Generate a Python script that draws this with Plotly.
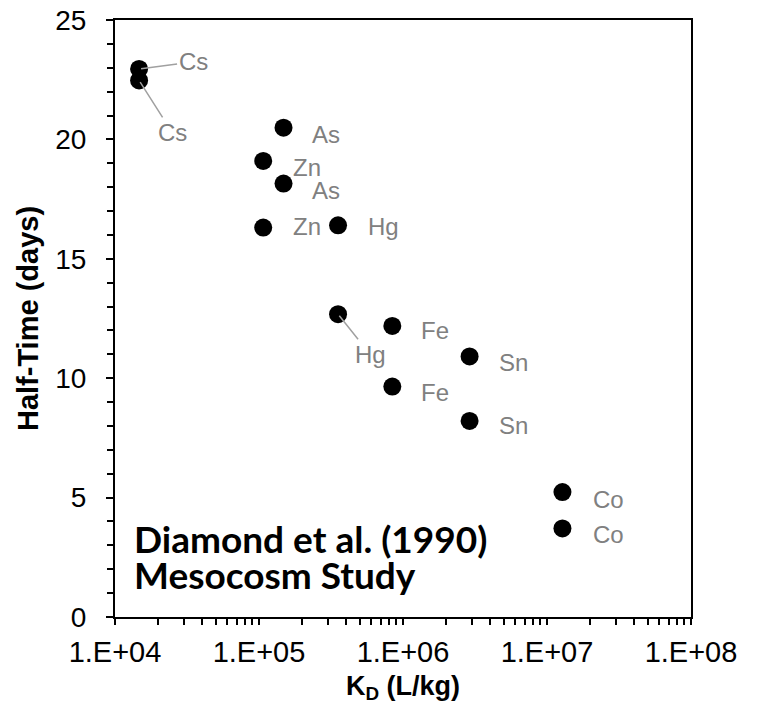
import math
import plotly.graph_objects as go

# ---- data ----
elements = ["Cs", "Cs", "As", "Zn", "As", "Zn", "Hg", "Hg", "Fe", "Sn", "Fe", "Sn", "Co", "Co"]
kd_values = [1.47e4, 1.47e4, 1.48e5, 1.07e5, 1.48e5, 1.07e5, 3.54e5, 3.54e5,
             8.43e5, 2.90e6, 8.43e5, 2.90e6, 1.28e7, 1.28e7]
half_time = [22.95, 22.47, 20.49, 19.10, 18.15, 16.31, 16.40, 12.68,
             12.19, 10.91, 9.65, 8.21, 5.23, 3.71]

x_major = [1e4, 1e5, 1e6, 1e7, 1e8]
x_major_labels = ["1.E+04", "1.E+05", "1.E+06", "1.E+07", "1.E+08"]
y_ticks = [0, 5, 10, 15, 20, 25]

# ---- label placement (pixel offsets from the point) ----
# (dx, dy, leader)  dy positive = downward on screen
label_offsets = [
    (54, -7, True), (33, 52, True), (42, 7, False), (44, 7, False), (42, 7, False),
    (44, -1, False), (45, 1, False), (32, 40, True), (43, 5, False), (44, 6, False),
    (43, 6, False), (44, 5, False), (46, 7, False), (46, 6, False),
]

GRAY = "#808080"
LABEL_FONT = dict(family="Liberation Sans, Arial", size=24, color=GRAY)

fig = go.Figure()
fig.add_trace(go.Scatter(
    x=kd_values, y=half_time, mode="markers",
    marker=dict(size=18, color="black"),
    hoverinfo="x+y", showlegend=False,
))

annotations = []
for el, xv, yv, (dx, dy, leader) in zip(elements, kd_values, half_time, label_offsets):
    lx = math.log10(xv)  # annotations on a log axis use log10 coordinates
    if leader:
        annotations.append(dict(
            x=lx, y=yv, xref="x", yref="y", text=el,
            showarrow=True, arrowhead=0, arrowwidth=1.5, arrowcolor="#a0a0a0",
            ax=dx, ay=dy, standoff=2, font=LABEL_FONT,
        ))
    else:
        annotations.append(dict(
            x=lx, y=yv, xref="x", yref="y", text=el, showarrow=False,
            xshift=dx, yshift=-dy, font=LABEL_FONT,
        ))

STUDY_FONT = dict(family="Lato", size=37, color="black", weight="bold")
annotations.append(dict(
    x=0.03, y=0.131, xref="paper", yref="paper", xanchor="left", yanchor="middle",
    text="Diamond et al. (1990)", showarrow=False, font=STUDY_FONT,
))
annotations.append(dict(
    x=0.03, y=0.071, xref="paper", yref="paper", xanchor="left", yanchor="middle",
    text="Mesocosm Study", showarrow=False, font=STUDY_FONT,
))

# x ticks: majors labelled, minors (2..9) unlabelled
x_tickvals, x_ticktext = [], []
for i, v in enumerate(x_major):
    x_tickvals.append(v)
    x_ticktext.append(x_major_labels[i])
    if i < len(x_major) - 1:
        for k in range(2, 10):
            x_tickvals.append(v * k)
            x_ticktext.append("")

fig.update_layout(
    width=759, height=712,
    margin=dict(l=115, r=68, t=20, b=95),
    paper_bgcolor="white", plot_bgcolor="white",
    annotations=annotations,
    font=dict(family="Liberation Sans, Arial", color="black"),
    xaxis=dict(
        type="log", range=[4, 8], automargin=False,
        tickvals=x_tickvals, ticktext=x_ticktext,
        ticks="outside", ticklen=6, tickwidth=1.5, tickcolor="black",
        ticklabelstandoff=2, ticklabeloverflow="allow",
        showline=True, linecolor="black", linewidth=2, mirror=True,
        showgrid=False, zeroline=False,
        tickfont=dict(size=29),
        title=dict(text="K<sub>D</sub> (L/kg)", font=dict(size=27, weight="bold"), standoff=9),
    ),
    yaxis=dict(
        range=[0, 25], tickvals=y_ticks, automargin=False,
        ticks="outside", ticklen=7, tickwidth=1.5, tickcolor="black",
        ticklabelstandoff=14, ticklabeloverflow="allow",
        minor=dict(dtick=1, ticks="outside", ticklen=6, tickwidth=1.5, tickcolor="black"),
        showline=True, linecolor="black", linewidth=2, mirror=True,
        showgrid=False, zeroline=False,
        tickfont=dict(size=28),
        title=dict(text="Half-Time (days)", font=dict(size=29, weight="bold"), standoff=8),
    ),
)

fig.write_html(
    "out.html",
    config={"displayModeBar": False},
    post_script="document.body.style.margin='0';document.body.style.overflow='hidden';",
)
